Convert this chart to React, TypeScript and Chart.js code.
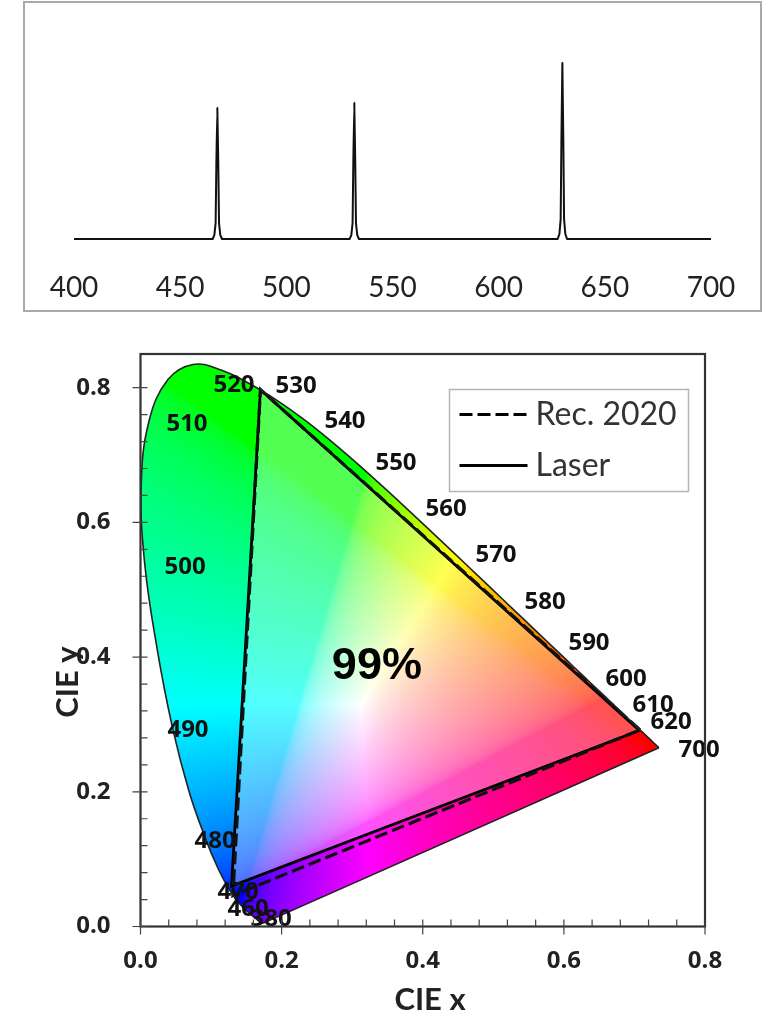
import React, { useEffect, useRef } from "react";
import { Chart, registerables } from "chart.js";
Chart.register(...registerables);

// ---------- Spectrum ----------
const spectrumNm = [400, 465.3, 466.1, 466.7, 467.05, 467.5, 467.95, 468.3, 468.9, 469.7, 529.8, 530.6, 531.2, 531.55, 532, 532.45, 532.8, 533.4, 534.2, 627.8, 628.6, 629.2, 629.55, 630, 630.45, 630.8, 631.4, 632.2, 700];
const spectrumI = [0, 0, 0.02, 0.08, 0.38, 0.66, 0.38, 0.08, 0.02, 0, 0, 0.02, 0.08, 0.39, 0.685, 0.39, 0.08, 0.02, 0, 0, 0.025, 0.1, 0.5, 0.885, 0.5, 0.1, 0.025, 0, 0];

// ---------- CIE 1931 spectral locus ----------
const locusX = [0.1741, 0.174, 0.1738, 0.1736, 0.1733, 0.173, 0.1726, 0.1721, 0.1714, 0.1703, 0.1689, 0.1669, 0.1644, 0.1611, 0.1566, 0.151, 0.144, 0.1355, 0.1241, 0.1096, 0.0913, 0.0687, 0.0454, 0.0235, 0.006, 0.001, 0.012, 0.0389, 0.0743, 0.1142, 0.1547, 0.1929, 0.2296, 0.2658, 0.3016, 0.3373, 0.3731, 0.4087, 0.4441, 0.4788, 0.5125, 0.5448, 0.5752, 0.6029, 0.627, 0.6482, 0.6658, 0.6801, 0.6915, 0.7006, 0.7079, 0.714, 0.719, 0.723, 0.726, 0.7283, 0.73, 0.7311, 0.732, 0.7347];
const locusY = [0.005, 0.005, 0.0049, 0.0049, 0.0048, 0.0048, 0.0048, 0.0048, 0.0051, 0.0058, 0.0069, 0.0086, 0.0109, 0.0138, 0.0177, 0.0227, 0.0297, 0.0399, 0.0578, 0.0868, 0.1327, 0.2007, 0.295, 0.4127, 0.5384, 0.6548, 0.7502, 0.812, 0.8345, 0.8262, 0.8059, 0.7816, 0.7543, 0.7243, 0.6923, 0.6589, 0.6245, 0.5896, 0.5547, 0.5202, 0.4866, 0.4544, 0.4242, 0.3965, 0.3725, 0.3514, 0.334, 0.3197, 0.3083, 0.2993, 0.292, 0.2859, 0.2809, 0.277, 0.274, 0.2717, 0.27, 0.2689, 0.268, 0.2653];
const purpleX = [0.7347, 0.1741];
const purpleY = [0.2653, 0.005];

// ---------- Gamut triangles ----------
const rec2020X = [0.708, 0.17, 0.131, 0.708];
const rec2020Y = [0.292, 0.797, 0.046, 0.292];
const laserX = [0.707, 0.17, 0.129, 0.707];
const laserY = [0.291, 0.797, 0.06, 0.291];

// ---------- Text ----------
const waveLabels = ["520", "530", "540", "550", "560", "570", "580", "590", "600", "610", "620", "700", "510", "500", "490", "480", "470", "460", "380"];
const waveLabelX = [0.1325, 0.2204, 0.2898, 0.3621, 0.433, 0.5038, 0.5733, 0.6356, 0.6881, 0.7264, 0.7519, 0.7916, 0.0659, 0.0631, 0.0673, 0.1056, 0.1382, 0.1524, 0.185];
const waveLabelY = [0.8046, 0.8031, 0.7511, 0.6887, 0.6218, 0.5535, 0.4837, 0.4227, 0.3692, 0.3306, 0.3053, 0.2637, 0.7467, 0.5357, 0.2935, 0.1285, 0.0527, 0.0275, 0.0126];
const coverageLabel = "99%";
const minorStep = 0.04;

const FONT = "Lato, sans-serif";
const BOLD = "'Open Sans', sans-serif";
const toPts = (xs: number[], ys: number[]) => xs.map((x, i) => ({ x, y: ys[i] }));

function xyToColor(x: number, y: number): [number, number, number] {
  const X = x / y, Y = 1, Z = (1 - x - y) / y;
  let r = 3.2406 * X - 1.5372 * Y - 0.4986 * Z;
  let g = -0.9689 * X + 1.8758 * Y + 0.0415 * Z;
  let b = 0.0557 * X - 0.204 * Y + 1.057 * Z;
  r = Math.max(r, 0); g = Math.max(g, 0); b = Math.max(b, 0);
  const m = Math.max(r, g, b) || 1;
  const gm = (v: number) => {
    const c = v / m;
    return 255 * (c <= 0.0031308 ? 12.92 * c : 1.055 * Math.pow(c, 1 / 2.4) - 0.055);
  };
  return [gm(r), gm(g), gm(b)];
}

const gamutFillPlugin = {
  id: "gamutFill",
  beforeDatasetsDraw(chart: any) {
    const { ctx, chartArea: a, scales } = chart;
    const sx = scales.x, sy = scales.y;
    const w = Math.ceil(a.right - a.left), h = Math.ceil(a.bottom - a.top);
    const off = document.createElement("canvas");
    off.width = w; off.height = h;
    const oc = off.getContext("2d")!;
    const img = oc.createImageData(w, h);
    for (let j = 0; j < h; j++) {
      const vy = Math.max(sy.getValueForPixel(a.top + j + 0.5), 0.001);
      for (let i = 0; i < w; i++) {
        const vx = sx.getValueForPixel(a.left + i + 0.5);
        const c = xyToColor(vx, vy);
        const k = (j * w + i) * 4;
        img.data[k] = c[0]; img.data[k + 1] = c[1]; img.data[k + 2] = c[2]; img.data[k + 3] = 255;
      }
    }
    oc.putImageData(img, 0, 0);
    ctx.save();
    ctx.beginPath();
    chart.getDatasetMeta(0).dataset.path(ctx);
    ctx.closePath();
    ctx.clip();
    ctx.drawImage(off, a.left, a.top);
    ctx.beginPath();
    laserX.forEach((x, i) => {
      const px = sx.getPixelForValue(x), py = sy.getPixelForValue(laserY[i]);
      if (i === 0) ctx.moveTo(px, py); else ctx.lineTo(px, py);
    });
    ctx.closePath();
    ctx.fillStyle = "rgba(255,255,255,0.32)";
    ctx.fill();
    ctx.restore();
  },
};

const framePlugin = {
  id: "frameAndText",
  afterDatasetsDraw(chart: any) {
    const { ctx, chartArea: a, scales } = chart;
    const sx = scales.x, sy = scales.y;
    ctx.save();
    ctx.fillStyle = "#111";
    ctx.textAlign = "center";
    ctx.textBaseline = "middle";
    ctx.font = `bold 24px ${BOLD}`;
    waveLabels.forEach((t, i) => ctx.fillText(t, sx.getPixelForValue(waveLabelX[i]), sy.getPixelForValue(waveLabelY[i]) + 1));
    ctx.font = "bold 45px 'Liberation Sans', sans-serif";
    ctx.fillStyle = "#000";
    ctx.fillText(coverageLabel, sx.getPixelForValue(0.335), sy.getPixelForValue(0.386));

    // frame
    ctx.strokeStyle = "#333";
    ctx.lineWidth = 2.2;
    ctx.strokeRect(a.left, a.top, a.right - a.left, a.bottom - a.top);
    // ticks
    ctx.lineWidth = 1.2;
    ctx.strokeStyle = "#444";
    ctx.beginPath();
    for (let n = 0; n <= 20; n++) {
      const v = n * minorStep;
      const major = n % 5 === 0;
      const px = sx.getPixelForValue(v);
      ctx.moveTo(px, a.bottom + (major ? 8 : 0));
      ctx.lineTo(px, a.bottom - 7);
      if (v <= 0.85) {
        const py = sy.getPixelForValue(v);
        ctx.moveTo(a.left - (major ? 8 : 0), py);
        ctx.lineTo(a.left + 7, py);
      }
    }
    ctx.stroke();

    // axis titles
    ctx.fillStyle = "#222";
    ctx.font = `bold 31px ${FONT}`;
    ctx.fillText("CIE x", 430, a.bottom + 73);
    ctx.save();
    ctx.translate(68, a.top + 328);
    ctx.rotate(-Math.PI / 2);
    ctx.fillText("CIE y", 0, 0);
    ctx.restore();

    // legend
    const lx = 449.5, ly = 59.5, lw = 239, lh = 102;
    ctx.fillStyle = "#fff";
    ctx.fillRect(lx, ly, lw, lh);
    ctx.strokeStyle = "#b5b5b5";
    ctx.lineWidth = 1.5;
    ctx.strokeRect(lx, ly, lw, lh);
    ctx.textAlign = "left";
    ctx.font = `32px ${FONT}`;
    [0, 1].forEach((k) => {
      const ds = chart.data.datasets[k + 2];
      const yy = ly + (k === 0 ? 25 : 76);
      ctx.beginPath();
      ctx.setLineDash(ds.borderDash || []);
      ctx.strokeStyle = "#000";
      ctx.lineWidth = ds.borderWidth;
      ctx.moveTo(lx + 10, yy);
      ctx.lineTo(lx + 78, yy);
      ctx.stroke();
      ctx.setLineDash([]);
      ctx.fillStyle = "#333";
      ctx.fillText(ds.label, lx + 86, yy);
    });
    ctx.restore();
  },
};

export default function App() {
  const topRef = useRef<HTMLCanvasElement>(null);
  const botRef = useRef<HTMLCanvasElement>(null);
  useEffect(() => {
    const top = new Chart(topRef.current!, {
      type: "line",
      data: {
        datasets: [{
          label: "Spectrum",
          data: toPts(spectrumNm, spectrumI),
          borderColor: "#111",
          borderWidth: 2,
          borderJoinStyle: "round",
          pointRadius: 0,
          tension: 0.001,
          capBezierPoints: false,
          clip: false,
        }],
      },
      options: {
        animation: false, responsive: false,
        layout: { padding: { left: 74, right: 63, top: 40, bottom: 0 } },
        plugins: { legend: { display: false }, tooltip: { enabled: false } },
        scales: {
          x: {
            type: "linear", min: 400, max: 700,
            afterFit: (s: any) => { s.height = 82; },
            grid: { display: false }, border: { display: false },
            ticks: { stepSize: 50, padding: 24, color: "#222", maxRotation: 0, font: { family: FONT, size: 28 } },
          },
          y: { min: 0, max: 1, display: false },
        },
      },
    } as any);
    const bot = new Chart(botRef.current!, {
      type: "scatter",
      data: {
        datasets: [
          { label: "Spectral locus", data: toPts(locusX, locusY), showLine: true, tension: 0.4, capBezierPoints: false, borderColor: "#222", borderWidth: 1.6, pointRadius: 0, clip: false },
          { label: "Line of purples", data: toPts(purpleX, purpleY), showLine: true, borderColor: "#222", borderWidth: 1.6, pointRadius: 0, clip: false },
          { label: "Rec. 2020", data: toPts(rec2020X, rec2020Y), showLine: true, borderColor: "#111", borderDash: [13, 5], borderWidth: 3.2, pointRadius: 0 },
          { label: "Laser", data: toPts(laserX, laserY), showLine: true, borderColor: "#000", borderWidth: 2.8, pointRadius: 0 },
        ],
      },
      plugins: [gamutFillPlugin, framePlugin],
      options: {
        animation: false, responsive: false,
        layout: { padding: { left: 0, right: 69, top: 24, bottom: 0 } },
        plugins: { legend: { display: false }, tooltip: { enabled: false } },
        scales: {
          x: {
            type: "linear", min: 0, max: 0.8,
            afterFit: (s: any) => { s.height = 104.5; s.paddingLeft = 0; s.paddingRight = 0; },
            grid: { display: false }, border: { display: false },
            ticks: { stepSize: 0.2, padding: 12, color: "#222", maxRotation: 0, callback: (v: any) => Number(v).toFixed(1), font: { family: BOLD, size: 24, weight: "bold" } },
          },
          y: {
            type: "linear", min: 0, max: 0.85,
            afterFit: (s: any) => { s.width = 140.5; s.paddingTop = 0; s.paddingBottom = 0; },
            grid: { display: false }, border: { display: false },
            ticks: { stepSize: 0.2, includeBounds: false, padding: 22, color: "#222", callback: (v: any) => Number(v).toFixed(1), font: { family: BOLD, size: 24, weight: "bold" } },
          },
        },
      },
    } as any);
    return () => { top.destroy(); bot.destroy(); };
  }, []);
  return (
    <div style={{ position: "absolute", left: 0, top: 0, width: 774, height: 1031, background: "#fff", overflow: "hidden" }}>
      <div style={{ position: "absolute", left: 23, top: 1, width: 739, height: 311, boxSizing: "border-box", border: "2px solid #a9a9a9" }} />
      <canvas ref={topRef} width={774} height={321} style={{ position: "absolute", left: 0, top: 0, filter: "blur(0.5px)" }} />
      <canvas ref={botRef} width={774} height={701} style={{ position: "absolute", left: 0, top: 330, filter: "blur(0.5px)" }} />
    </div>
  );
}
